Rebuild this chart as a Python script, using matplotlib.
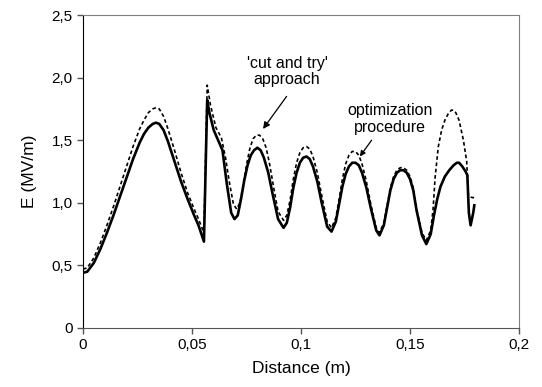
import matplotlib
matplotlib.use('Agg')
import matplotlib.pyplot as plt

plt.rcParams['font.family'] = ['Liberation Sans', 'DejaVu Sans']

# optimization procedure (solid)
opt_x = [0.000, 0.002, 0.005, 0.008, 0.011, 0.014, 0.017, 0.020, 0.023, 0.026,
         0.028, 0.030, 0.032, 0.0335, 0.035, 0.037, 0.039, 0.042, 0.045, 0.048,
         0.051, 0.053, 0.0555, 0.0565, 0.0570, 0.0580, 0.0600, 0.0620, 0.0640, 0.0660,
         0.0680, 0.0695, 0.0710, 0.0725, 0.0740, 0.0755, 0.0770, 0.0785, 0.0800, 0.0815,
         0.0830, 0.0850, 0.0870, 0.0895, 0.0920, 0.0935, 0.0950, 0.0965, 0.0980, 0.0995,
         0.1010, 0.1025, 0.1040, 0.1055, 0.1075, 0.1095, 0.1120, 0.1140, 0.1160, 0.1175,
         0.1190, 0.1205, 0.1220, 0.1235, 0.1250, 0.1265, 0.1280, 0.1300, 0.1320, 0.1345,
         0.1360, 0.1380, 0.1395, 0.1410, 0.1425, 0.1440, 0.1455, 0.1470, 0.1485, 0.1500,
         0.1515, 0.1530, 0.1555, 0.1575, 0.1595, 0.1610, 0.1625, 0.1640, 0.1660, 0.1680,
         0.1700, 0.1715, 0.1725, 0.1740, 0.1755, 0.1763, 0.1770, 0.1778, 0.1790, 0.1795]
opt_y = [0.44, 0.45, 0.52, 0.63, 0.76, 0.90, 1.05, 1.20, 1.35, 1.48,
         1.55, 1.60, 1.63, 1.64, 1.63, 1.58, 1.49, 1.33, 1.17, 1.03,
         0.90, 0.82, 0.69, 1.45, 1.82, 1.72, 1.58, 1.50, 1.42, 1.15,
         0.92, 0.87, 0.90, 1.03, 1.18, 1.30, 1.38, 1.42, 1.44, 1.42,
         1.36, 1.24, 1.07, 0.87, 0.80, 0.84, 0.96, 1.12, 1.24, 1.32,
         1.36, 1.37, 1.35, 1.29, 1.17, 1.00, 0.81, 0.77, 0.85, 0.99,
         1.13, 1.23, 1.29, 1.32, 1.32, 1.30, 1.24, 1.12, 0.96, 0.78,
         0.74, 0.82, 0.96, 1.10, 1.19, 1.24, 1.26, 1.26, 1.24, 1.19,
         1.10, 0.94, 0.74, 0.67, 0.75, 0.90, 1.03, 1.13, 1.21, 1.26,
         1.30, 1.32, 1.32, 1.29, 1.25, 1.22, 0.92, 0.82, 0.92, 0.98]

# 'cut and try' approach (dashed)
cut_x = [0.000, 0.002, 0.005, 0.008, 0.011, 0.014, 0.017, 0.020, 0.023, 0.026,
         0.028, 0.030, 0.032, 0.0335, 0.035, 0.037, 0.039, 0.042, 0.045, 0.048,
         0.051, 0.053, 0.0555, 0.0565, 0.0570, 0.0585, 0.0610, 0.0635, 0.0655, 0.0670,
         0.0690, 0.0705, 0.0720, 0.0735, 0.0750, 0.0765, 0.0780, 0.0795, 0.0810, 0.0825,
         0.0840, 0.0855, 0.0875, 0.0895, 0.0920, 0.0935, 0.0950, 0.0965, 0.0980, 0.0995,
         0.1010, 0.1025, 0.1040, 0.1055, 0.1075, 0.1095, 0.1120, 0.1140, 0.1160, 0.1175,
         0.1190, 0.1205, 0.1220, 0.1235, 0.1250, 0.1265, 0.1280, 0.1300, 0.1320, 0.1345,
         0.1360, 0.1380, 0.1395, 0.1410, 0.1425, 0.1440, 0.1455, 0.1470, 0.1485, 0.1500,
         0.1515, 0.1530, 0.1555, 0.1575, 0.1595, 0.1606, 0.1615, 0.1630, 0.1645, 0.1660,
         0.1675, 0.1690, 0.1700, 0.1710, 0.1725, 0.1745, 0.1760, 0.1768, 0.1790, 0.1798]
cut_y = [0.47, 0.48, 0.56, 0.68, 0.82, 0.97, 1.13, 1.29, 1.45, 1.59,
         1.66, 1.72, 1.75, 1.76, 1.75, 1.69, 1.59, 1.42, 1.24, 1.08,
         0.95, 0.87, 0.76, 1.55, 1.94, 1.78, 1.60, 1.52, 1.35, 1.18,
         0.99, 0.95, 1.00, 1.14, 1.30, 1.43, 1.51, 1.54, 1.54, 1.51,
         1.44, 1.32, 1.12, 0.93, 0.86, 0.90, 1.02, 1.19, 1.32, 1.40,
         1.44, 1.45, 1.43, 1.37, 1.24, 1.06, 0.85, 0.80, 0.88, 1.03,
         1.19, 1.31, 1.38, 1.41, 1.41, 1.38, 1.31, 1.17, 0.99, 0.80,
         0.76, 0.84, 0.98, 1.12, 1.21, 1.26, 1.28, 1.28, 1.26, 1.21,
         1.12, 0.95, 0.76, 0.70, 0.78, 0.95, 1.20, 1.45, 1.58, 1.66,
         1.71, 1.74, 1.74, 1.72, 1.66, 1.50, 1.33, 1.05, 1.04, 1.06]

x_ticks = [0, 0.05, 0.1, 0.15, 0.2]
x_labels = ['0', '0,05', '0,1', '0,15', '0,2']
y_ticks = [0, 0.5, 1.0, 1.5, 2.0, 2.5]
y_labels = ['0', '0,5', '1,0', '1,5', '2,0', '2,5']

fig = plt.figure(figsize=(5.42, 3.87), dpi=100)
ax = fig.add_axes([0.153, 0.1525, 0.8046, 0.8087])

ax.plot(cut_x, cut_y, color='black', lw=1.2, linestyle=(0, (2.2, 1.6)))
ax.plot(opt_x, opt_y, color='black', lw=1.9, solid_joinstyle='round')

ax.set_xlim(0, 0.2)
ax.set_ylim(0, 2.5)
ax.set_xticks(x_ticks)
ax.set_xticklabels(x_labels)
ax.set_yticks(y_ticks)
ax.set_yticklabels(y_labels)
ax.tick_params(direction='out', length=4, width=1, labelsize=11, color='#555555')
ax.spines['left'].set_color('black')
ax.spines['bottom'].set_color('#555555')
ax.spines['top'].set_color('#808080')
ax.spines['right'].set_color('#808080')

ax.set_xlabel('Distance (m)', fontsize=12.5, labelpad=6)
ax.set_ylabel('E (MV/m)', fontsize=12.5, labelpad=10)

ax.text(0.0936, 2.05, "'cut and try'\napproach", ha='center', va='center',
        fontsize=11.5, linespacing=1.1)
ax.annotate('', xy=(0.0826, 1.59), xytext=(0.0934, 1.85),
            arrowprops=dict(arrowstyle='-|>', color='black', lw=0.9,
                            shrinkA=0, shrinkB=0, mutation_scale=10))
ax.text(0.1408, 1.67, "optimization\nprocedure", ha='center', va='center',
        fontsize=11.5, linespacing=1.1)
ax.annotate('', xy=(0.1270, 1.37), xytext=(0.1324, 1.50),
            arrowprops=dict(arrowstyle='-|>', color='black', lw=0.9,
                            shrinkA=0, shrinkB=0, mutation_scale=8))

plt.savefig('out.png', dpi=100)
